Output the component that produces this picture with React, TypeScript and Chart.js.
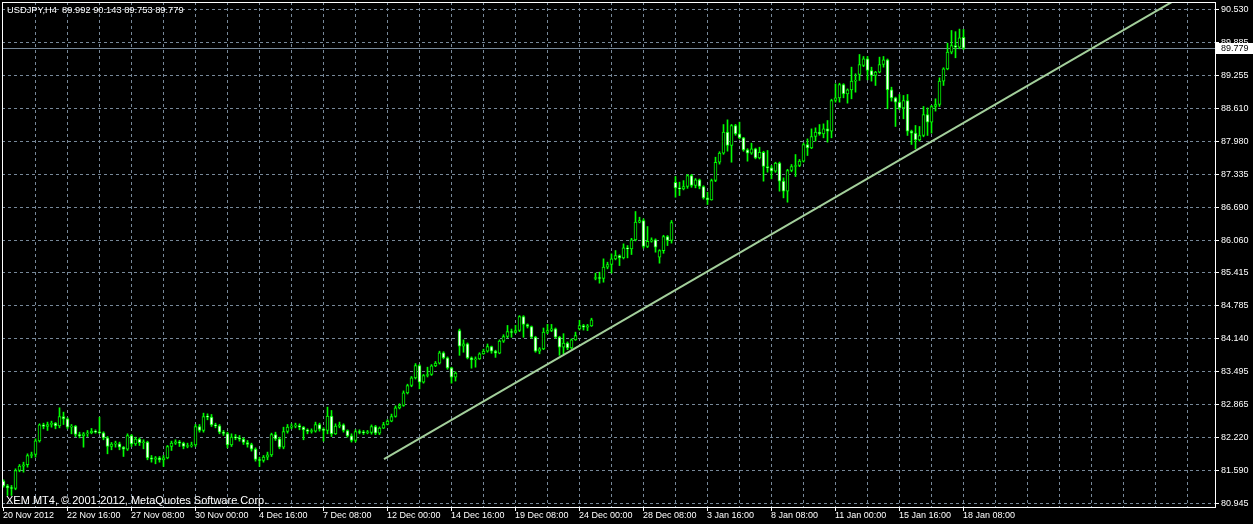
import { useEffect, useRef } from "react";
import { Chart, registerables } from "chart.js";

Chart.register(...registerables);

// ---- USDJPY H4 candles ----
const opens = [
  81.379, 81.288, 81.249, 81.236, 81.586, 81.670, 81.696, 81.877, 81.896, 82.161,
  82.472, 82.439, 82.478, 82.504, 82.452, 82.633, 82.588, 82.426, 82.446, 82.284,
  82.258, 82.297, 82.317, 82.349, 82.329, 82.317, 82.219, 82.051, 82.097, 82.103,
  82.038, 82.000, 82.265, 82.103, 82.194, 82.123, 82.136, 81.831, 81.806, 81.831,
  81.793, 81.831, 82.051, 82.116, 82.142, 82.116, 82.051, 82.064, 82.084, 82.439,
  82.362, 82.633, 82.621, 82.472, 82.452, 82.329, 82.304, 82.084, 82.232, 82.219,
  82.194, 82.129, 82.090, 82.000, 81.799, 81.780, 81.844, 81.890, 82.284, 82.200,
  82.038, 82.342, 82.426, 82.446, 82.459, 82.426, 82.375, 82.342, 82.349, 82.478,
  82.388, 82.362, 82.640, 82.297, 82.446, 82.472, 82.362, 82.258, 82.168, 82.342,
  82.323, 82.317, 82.323, 82.439, 82.310, 82.407, 82.478, 82.543, 82.633, 82.801,
  82.847, 83.092, 83.235, 83.383, 83.623, 83.299, 83.429, 83.448, 83.616, 83.668,
  83.869, 83.771, 83.577, 83.396, 84.302, 83.998, 84.043, 83.771, 83.733, 83.752,
  83.849, 83.901, 83.991, 83.901, 83.862, 84.095, 84.185, 84.282, 84.263, 84.302,
  84.574, 84.418, 84.380, 84.173, 83.901, 83.946, 84.270, 84.302, 84.334, 84.173,
  83.979, 84.056, 83.966, 84.121, 84.334, 84.399, 84.367, 84.392, 85.310, 85.323,
  85.310, 85.530, 85.582, 85.692, 85.756, 85.711, 85.905, 85.886, 86.060, 86.403,
  86.436, 85.931, 86.034, 86.060, 85.724, 85.853, 86.125, 86.048, 87.179, 87.069,
  87.050, 87.095, 87.309, 87.115, 87.225, 87.095, 86.875, 86.837, 87.212, 87.567,
  87.742, 88.150, 87.891, 88.279, 88.117, 88.040, 87.807, 87.742, 87.826, 87.651,
  87.761, 87.483, 87.457, 87.393, 87.548, 87.199, 87.005, 87.406, 87.483, 87.503,
  87.587, 87.910, 87.846, 88.066, 88.150, 88.117, 88.214, 88.169, 88.765, 88.816,
  89.075, 88.894, 88.972, 89.140, 89.269, 89.444, 89.573, 89.347, 89.250, 89.314,
  89.463, 89.554, 88.972, 88.816, 88.732, 88.622, 88.765, 88.170, 88.131, 88.001,
  88.086, 88.493, 88.344, 88.648, 88.687, 89.140, 89.379, 89.703, 89.832, 89.800,
  89.992,
];

const highs = [
  81.405, 81.314, 81.295, 81.618, 81.702, 81.747, 81.909, 81.942, 82.200, 82.491,
  82.504, 82.524, 82.543, 82.517, 82.802, 82.718, 82.608, 82.478, 82.459, 82.329,
  82.323, 82.362, 82.401, 82.375, 82.621, 82.336, 82.245, 82.129, 82.155, 82.136,
  82.051, 82.297, 82.284, 82.232, 82.219, 82.181, 82.155, 81.877, 81.857, 81.857,
  81.877, 82.071, 82.155, 82.181, 82.168, 82.136, 82.116, 82.136, 82.478, 82.478,
  82.698, 82.685, 82.672, 82.504, 82.478, 82.362, 82.329, 82.297, 82.284, 82.265,
  82.219, 82.168, 82.116, 82.025, 81.844, 81.877, 81.942, 82.310, 82.329, 82.232,
  82.426, 82.478, 82.491, 82.504, 82.491, 82.439, 82.394, 82.394, 82.524, 82.504,
  82.413, 82.815, 82.750, 82.491, 82.524, 82.491, 82.375, 82.297, 82.375, 82.375,
  82.362, 82.362, 82.470, 82.460, 82.430, 82.520, 82.570, 82.680, 82.840, 82.880,
  83.130, 83.260, 83.410, 83.660, 83.640, 83.450, 83.590, 83.640, 83.700, 83.900,
  83.890, 83.790, 83.590, 83.500, 84.330, 84.120, 84.060, 83.790, 83.790, 83.870,
  83.940, 84.040, 84.000, 83.920, 84.120, 84.220, 84.400, 84.330, 84.400, 84.590,
  84.590, 84.430, 84.390, 84.190, 83.970, 84.350, 84.420, 84.420, 84.350, 84.190,
  84.240, 84.080, 84.140, 84.270, 84.500, 84.420, 84.420, 84.540, 85.414, 85.433,
  85.692, 85.627, 85.789, 85.853, 85.770, 85.983, 85.950, 86.090, 86.610, 86.500,
  86.468, 86.319, 86.100, 86.080, 85.870, 86.150, 86.144, 86.436, 87.289, 87.180,
  87.210, 87.328, 87.330, 87.250, 87.240, 87.110, 86.985, 87.240, 87.664, 87.770,
  88.298, 88.389, 88.300, 88.300, 88.344, 88.050, 87.830, 87.936, 87.840, 87.858,
  87.780, 87.794, 87.503, 87.567, 87.570, 87.263, 87.430, 87.522, 87.716, 87.620,
  87.940, 88.020, 88.214, 88.234, 88.298, 88.311, 88.376, 88.790, 89.088, 89.100,
  89.090, 88.990, 89.412, 89.282, 89.657, 89.618, 89.618, 89.411, 89.330, 89.606,
  89.618, 89.570, 89.023, 88.830, 88.881, 88.862, 88.881, 88.190, 88.280, 88.260,
  88.648, 88.622, 88.670, 88.797, 89.205, 89.400, 89.877, 90.123, 90.100, 90.150,
  90.143,
];

const lows = [
  81.262, 81.101, 81.101, 81.211, 81.560, 81.553, 81.650, 81.831, 81.844, 82.136,
  82.394, 82.362, 82.426, 82.394, 82.413, 82.478, 82.394, 82.297, 82.245, 82.219,
  82.038, 82.245, 82.297, 82.310, 82.297, 82.181, 81.909, 81.987, 82.038, 81.987,
  81.857, 81.974, 82.051, 82.071, 82.071, 82.006, 81.793, 81.747, 81.715, 81.747,
  81.663, 81.812, 81.974, 82.090, 82.051, 82.006, 82.025, 82.038, 82.051, 82.329,
  82.329, 82.569, 82.439, 82.413, 82.297, 82.265, 82.025, 82.051, 82.181, 82.155,
  82.090, 82.038, 81.961, 81.767, 81.663, 81.747, 81.793, 81.857, 82.168, 82.006,
  82.006, 82.310, 82.394, 82.413, 82.375, 82.181, 82.297, 82.310, 82.329, 82.349,
  82.155, 82.297, 82.245, 82.284, 82.413, 82.329, 82.232, 82.136, 82.136, 82.297,
  82.284, 82.297, 82.290, 82.280, 82.280, 82.400, 82.470, 82.530, 82.620, 82.780,
  82.830, 83.070, 83.210, 83.360, 83.170, 83.280, 83.400, 83.430, 83.600, 83.650,
  83.750, 83.550, 83.280, 83.320, 83.820, 83.880, 83.750, 83.570, 83.590, 83.740,
  83.840, 83.880, 83.860, 83.780, 83.850, 84.070, 84.160, 84.170, 84.250, 84.280,
  84.170, 84.350, 84.150, 83.880, 83.850, 83.930, 84.240, 84.280, 84.150, 83.820,
  83.850, 83.930, 83.940, 84.110, 84.310, 84.310, 84.300, 84.380, 85.284, 85.220,
  85.239, 85.498, 85.414, 85.672, 85.562, 85.690, 85.711, 85.776, 86.040, 86.390,
  85.900, 85.910, 86.015, 85.821, 85.608, 85.800, 85.950, 85.996, 86.888, 86.920,
  87.030, 87.060, 87.080, 87.070, 87.050, 86.850, 86.746, 86.830, 87.190, 87.530,
  87.720, 87.781, 87.567, 88.090, 88.020, 87.780, 87.587, 87.720, 87.632, 87.630,
  87.199, 87.373, 87.244, 87.370, 87.005, 86.875, 86.791, 87.380, 87.289, 87.480,
  87.570, 87.697, 87.830, 87.975, 88.090, 88.040, 87.956, 88.040, 88.732, 88.732,
  88.816, 88.713, 88.797, 88.926, 89.153, 89.420, 89.166, 89.140, 89.056, 89.300,
  89.411, 88.603, 88.752, 88.260, 88.584, 88.409, 88.086, 87.911, 87.827, 87.976,
  88.060, 88.086, 88.131, 88.558, 88.648, 89.056, 89.360, 89.670, 89.593, 89.767,
  89.753,
];

const closes = [
  81.288, 81.249, 81.236, 81.586, 81.670, 81.696, 81.877, 81.896, 82.161, 82.472,
  82.439, 82.478, 82.504, 82.452, 82.633, 82.588, 82.426, 82.446, 82.284, 82.258,
  82.297, 82.317, 82.349, 82.329, 82.317, 82.219, 82.051, 82.097, 82.103, 82.038,
  82.000, 82.265, 82.103, 82.194, 82.123, 82.136, 81.831, 81.806, 81.831, 81.793,
  81.831, 82.051, 82.116, 82.142, 82.116, 82.051, 82.064, 82.084, 82.439, 82.362,
  82.633, 82.621, 82.472, 82.452, 82.329, 82.304, 82.084, 82.232, 82.219, 82.194,
  82.129, 82.090, 82.000, 81.799, 81.780, 81.844, 81.890, 82.284, 82.200, 82.038,
  82.342, 82.426, 82.446, 82.459, 82.426, 82.375, 82.342, 82.349, 82.478, 82.388,
  82.362, 82.640, 82.297, 82.446, 82.472, 82.362, 82.258, 82.168, 82.342, 82.323,
  82.317, 82.323, 82.439, 82.310, 82.407, 82.478, 82.543, 82.633, 82.801, 82.847,
  83.092, 83.235, 83.383, 83.623, 83.299, 83.429, 83.448, 83.616, 83.668, 83.869,
  83.771, 83.577, 83.396, 83.474, 83.998, 84.043, 83.771, 83.733, 83.752, 83.849,
  83.901, 83.991, 83.901, 83.862, 84.095, 84.185, 84.282, 84.263, 84.302, 84.574,
  84.418, 84.380, 84.173, 83.901, 83.946, 84.270, 84.302, 84.334, 84.173, 83.979,
  84.056, 83.966, 84.121, 84.205, 84.399, 84.367, 84.392, 84.509, 85.323, 85.310,
  85.530, 85.582, 85.692, 85.756, 85.711, 85.905, 85.886, 86.060, 86.403, 86.436,
  85.931, 86.034, 86.060, 85.918, 85.853, 86.125, 86.048, 86.397, 87.069, 87.050,
  87.095, 87.309, 87.115, 87.225, 87.095, 86.875, 86.837, 87.212, 87.567, 87.742,
  88.150, 87.891, 88.279, 88.117, 88.040, 87.807, 87.742, 87.826, 87.651, 87.761,
  87.483, 87.457, 87.393, 87.548, 87.199, 87.005, 87.406, 87.483, 87.503, 87.587,
  87.910, 87.846, 88.066, 88.150, 88.117, 88.214, 88.169, 88.765, 88.816, 89.075,
  88.894, 88.972, 89.140, 89.153, 89.463, 89.573, 89.347, 89.250, 89.314, 89.463,
  89.554, 88.972, 88.816, 88.732, 88.622, 88.765, 88.170, 88.131, 88.001, 88.086,
  88.493, 88.344, 88.648, 88.687, 89.140, 89.379, 89.703, 89.832, 89.800, 89.981,
  89.779,
];

// date labels, one every 16 bars starting at bar 0
const dateLabels = [
  "20 Nov 2012", "22 Nov 16:00", "27 Nov 08:00", "30 Nov 00:00", "4 Dec 16:00",
  "7 Dec 08:00", "12 Dec 00:00", "14 Dec 16:00", "19 Dec 08:00", "24 Dec 00:00",
  "28 Dec 08:00", "3 Jan 16:00", "8 Jan 08:00", "11 Jan 00:00", "15 Jan 16:00",
  "18 Jan 08:00",
];
const dateLabelStep = 16;
const gridStep = 8;

// price scale labels (top to bottom)
const priceLabels = [
  "90.530", "89.885", "89.255", "88.610", "87.980", "87.335", "86.690", "86.060",
  "85.415", "84.785", "84.140", "83.495", "82.865", "82.220", "81.590", "80.945",
];
const priceTop = 90.53;
const priceBottom = 80.945;

// trend line anchors (bar index, price)
const trendX = [95.125, 302.875];
const trendY = [81.808, 91.161];

const headerText = "USDJPY,H4  89.992 90.143 89.753 89.779";
const copyrightText = "XEM MT4, \u00a9 2001-2012, MetaQuotes Software Corp.";

const LIME = "#00ff00";
const GRID = "#778899";
const FAMILY = "'Liberation Sans', Arial, sans-serif";
const FONT = "9px " + FAMILY;

export default function App() {
  const ref = useRef<HTMLCanvasElement>(null);

  useEffect(() => {
    document.body.style.margin = "0";
    document.body.style.background = "#000";
    const canvas = ref.current;
    if (!canvas) return;

    const n = closes.length;
    const idx = Array.from({ length: n }, (_, i) => i);
    const bodyData = idx.map((i) => ({ x: i, y: [opens[i], closes[i]] }));
    const wickData = idx.map((i) => ({ x: i, y: [lows[i], highs[i]] }));
    const bodyFill = idx.map((i) => (closes[i] >= opens[i] ? "#000000" : "#ffffff"));
    const trendData = trendX.map((x, i) => ({ x, y: trendY[i] }));
    const step = (priceTop - priceBottom) / (priceLabels.length - 1);
    const tickValues = priceLabels.map((_, k) => priceTop - k * step);
    const lastClose = closes[n - 1];

    const mt4 = {
      id: "mt4",
      beforeDraw(chart: any) {
        const { ctx, width, height } = chart;
        ctx.save();
        ctx.fillStyle = "#000";
        ctx.fillRect(0, 0, width, height);
        ctx.restore();
      },
      beforeDatasetsDraw(chart: any) {
        const { ctx, chartArea: a, scales } = chart;
        const xs = scales.x;
        const ys = scales.y;
        ctx.save();
        ctx.strokeStyle = GRID;
        ctx.lineWidth = 1;
        ctx.setLineDash([3, 3]);
        ctx.beginPath();
        for (const v of tickValues) {
          const y = Math.floor(ys.getPixelForValue(v)) + 0.5;
          ctx.moveTo(a.left, y);
          ctx.lineTo(a.right, y);
        }
        for (let i = gridStep; xs.getPixelForValue(i) < a.right - 2; i += gridStep) {
          const x = Math.floor(xs.getPixelForValue(i)) + 0.5;
          ctx.moveTo(x, a.top);
          ctx.lineTo(x, a.bottom);
        }
        ctx.stroke();
        ctx.setLineDash([]);
        const by = Math.floor(ys.getPixelForValue(lastClose)) + 0.5;
        ctx.strokeStyle = GRID;
        ctx.beginPath();
        ctx.moveTo(a.left, by);
        ctx.lineTo(a.right, by);
        ctx.stroke();
        ctx.restore();
      },
      afterDraw(chart: any) {
        const { ctx, chartArea: a, scales } = chart;
        const xs = scales.x;
        const ys = scales.y;
        ctx.save();
        // frame
        ctx.strokeStyle = "#ffffff";
        ctx.lineWidth = 1;
        ctx.strokeRect(a.left + 0.5, a.top + 0.5, a.right - a.left, a.bottom - a.top);
        ctx.font = FONT;
        ctx.fillStyle = "#ffffff";
        ctx.textBaseline = "middle";
        ctx.textAlign = "left";
        // price axis
        ctx.beginPath();
        tickValues.forEach((v, k) => {
          const y = Math.floor(ys.getPixelForValue(v)) + 0.5;
          ctx.moveTo(a.right + 1, y);
          ctx.lineTo(a.right + 4, y);
          ctx.fillText(priceLabels[k], a.right + 6, y);
        });
        ctx.stroke();
        // current price box
        const by = Math.floor(ys.getPixelForValue(lastClose));
        ctx.fillStyle = "#ffffff";
        ctx.fillRect(a.right + 1, by - 5, 40, 11);
        ctx.fillStyle = "#000000";
        ctx.fillText(lastClose.toFixed(3), a.right + 6, by + 0.5);
        // date axis
        ctx.fillStyle = "#ffffff";
        ctx.beginPath();
        dateLabels.forEach((lab, k) => {
          const x = Math.floor(xs.getPixelForValue(k * dateLabelStep)) + 0.5;
          ctx.moveTo(x, a.bottom + 1);
          ctx.lineTo(x, a.bottom + 4);
          ctx.fillText(lab, x - 0.5, a.bottom + 9);
        });
        ctx.stroke();
        // header
        ctx.font = "9.3px " + FAMILY;
        ctx.fillText(headerText, 7, 10.5);
        // copyright
        ctx.font = "11px " + FAMILY;
        ctx.textBaseline = "alphabetic";
        ctx.fillText(copyrightText, 6, 503.5);
        ctx.restore();
      },
    };

    const chart = new Chart(canvas, {
      type: "bar",
      data: {
        datasets: [
          {
            type: "line",
            data: trendData,
            borderColor: "#a3cf9b",
            borderWidth: 2,
            pointRadius: 0,
            fill: false,
            order: 0,
            clip: 0,
          } as any,
          {
            data: bodyData as any,
            backgroundColor: bodyFill,
            borderColor: LIME,
            borderWidth: 1,
            borderSkipped: false,
            barThickness: 3,
            grouped: false,
            minBarLength: 1,
            order: 1,
          } as any,
          {
            data: wickData as any,
            backgroundColor: LIME,
            borderWidth: 0,
            barThickness: 1,
            grouped: false,
            order: 2,
          } as any,
        ],
      },
      options: {
        animation: false,
        responsive: false,
        devicePixelRatio: 1,
        layout: { padding: { left: 2, top: 2, right: 38, bottom: 17 } },
        plugins: { legend: { display: false }, tooltip: { enabled: false } },
        events: [],
        scales: {
          x: { type: "linear", min: -0.375, max: 302.875, display: false, offset: false, grid: { offset: false } },
          y: { type: "linear", min: 80.8771, max: 90.6755, display: false },
        },
      } as any,
      plugins: [mt4],
    });

    return () => chart.destroy();
  }, []);

  return (
    <div style={{ width: 1253, height: 524, background: "#000" }}>
      <canvas ref={ref} width={1253} height={524} style={{ display: "block" }} />
    </div>
  );
}
